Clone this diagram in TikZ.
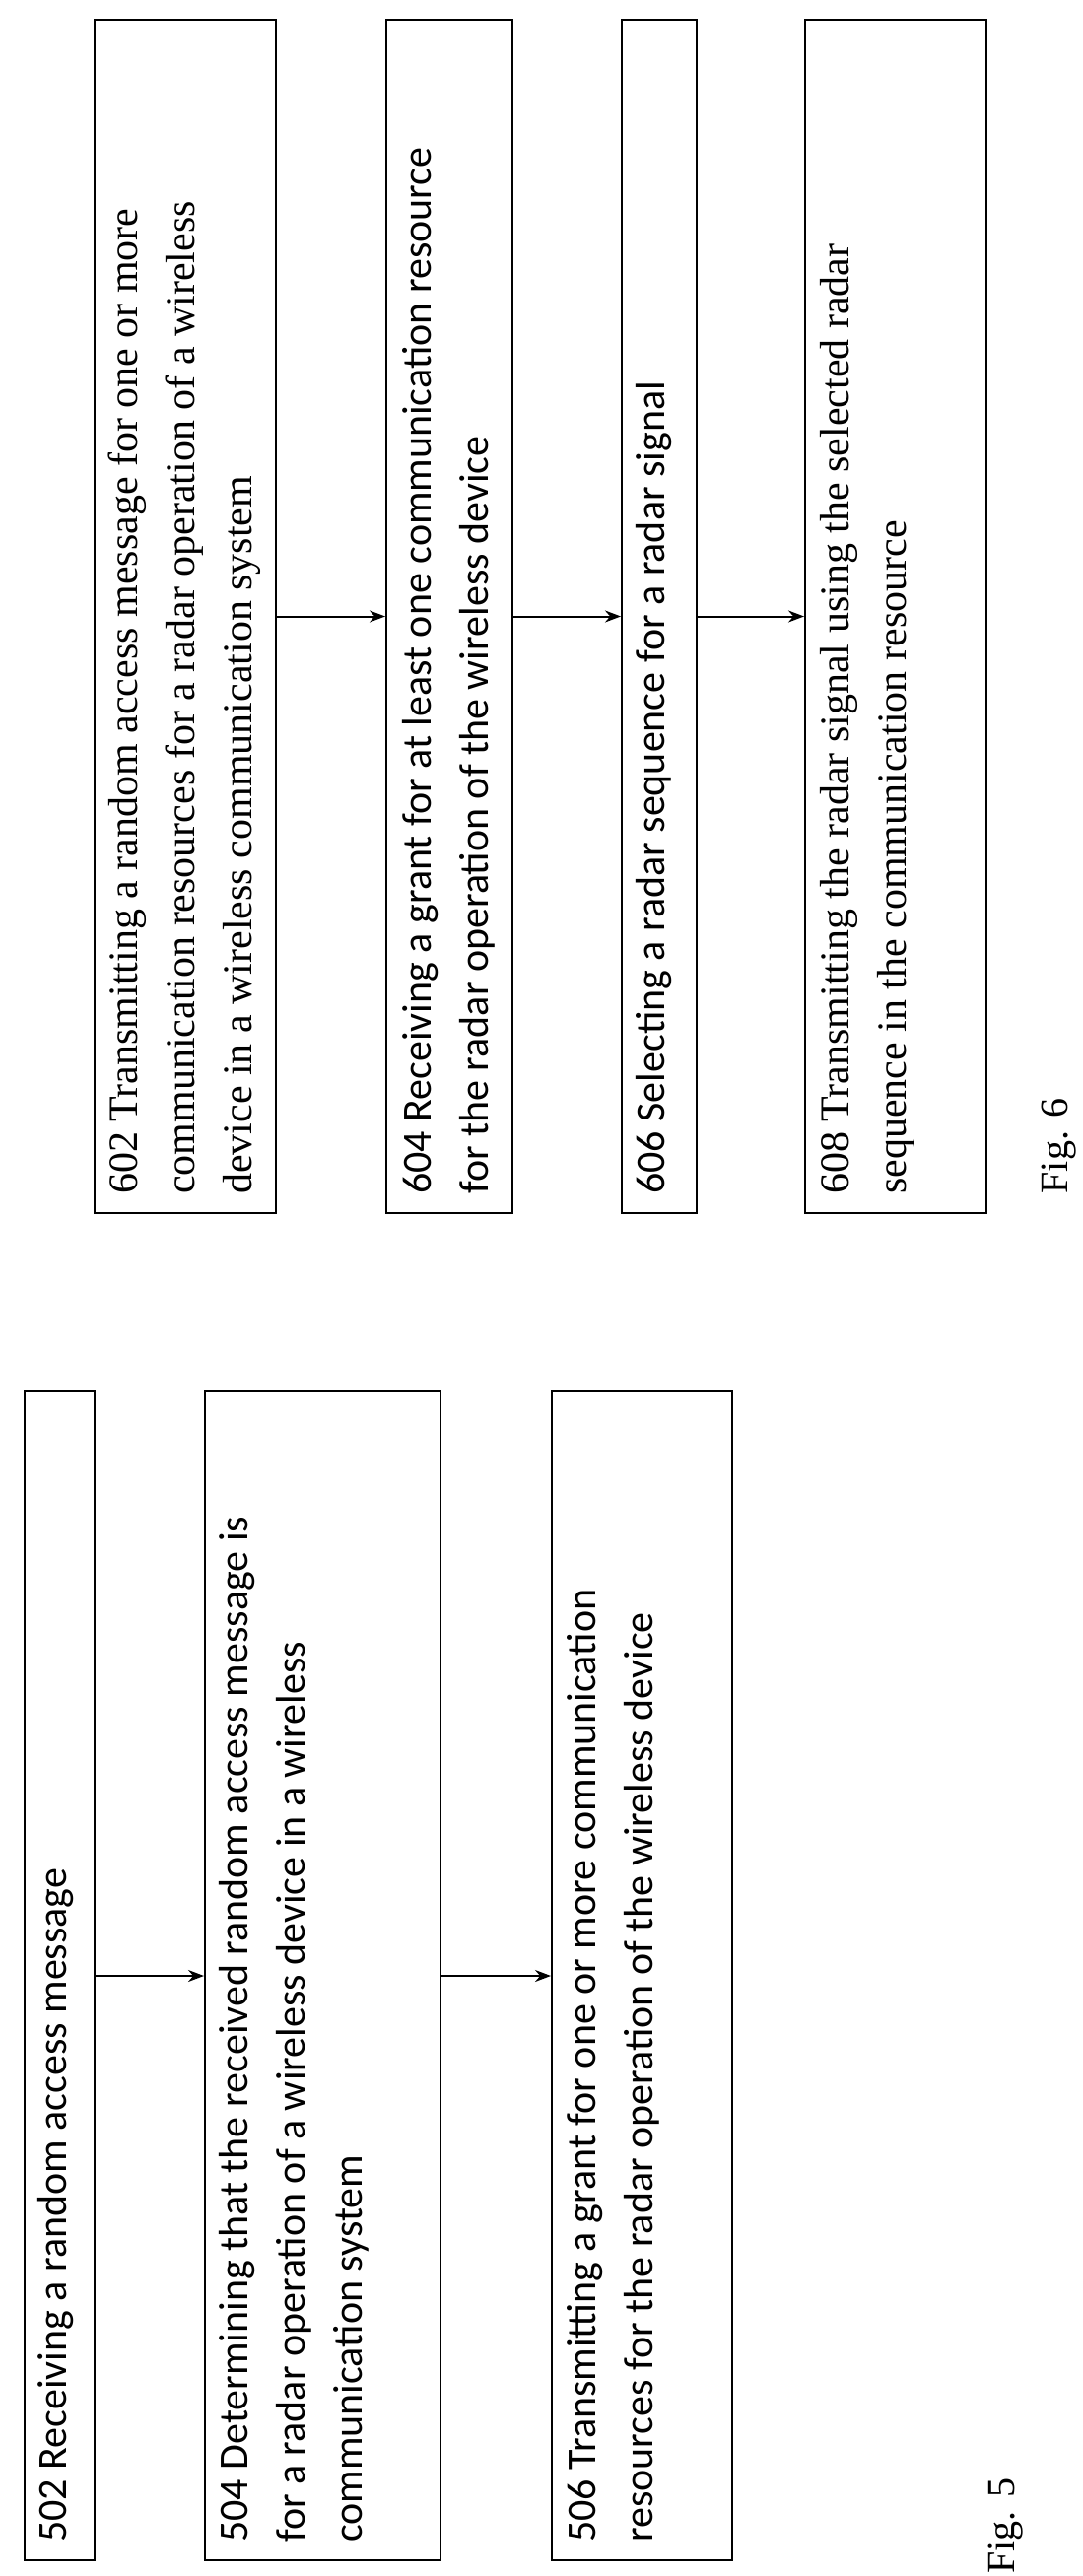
\documentclass[tikz,border=0pt]{standalone}
\usepackage{fontspec}
\setmainfont{Liberation Serif}
\newfontfamily\carlitofont{Carlito}
\usetikzlibrary{arrows.meta}
\begin{document}
\begin{tikzpicture}[x=1pt,y=-1pt,
  box/.style={draw,line width=2pt,inner sep=0pt},
  txt/.style={rotate=90,anchor=north west,align=left,inner sep=0pt},
  st/.style={font=\fontsize{42}{58}\selectfont\carlitofont},
  ts/.style={font=\fontsize{42}{58}\selectfont},
  arr/.style={line width=2pt,-{Stealth[length=16pt,width=12pt]}}]
\useasboundingbox (0,0) rectangle (1099,2614);
\newcommand\bx[5]{\node[box,minimum width={#4-#2},minimum height={#5-#3}] (#1) at ({(#2+#4)/2},{(#3+#5)/2}) {};}
% Fig 6
\bx{b602}{96}{20}{280}{1231}
\bx{b604}{392}{20}{520}{1231}
\bx{b606}{631}{20}{707}{1231}
\bx{b608}{817}{20}{1001}{1231}
\node[txt,ts] (t602) at (110,1212) {602 Transmitting a random access message for one or more\\communication resources for a radar operation of a wireless\\device in a wireless communication system};
\node[txt,st] (t604) at (408,1212) {604 Receiving a grant for at least one communication resource\\for the radar operation of the wireless device};
\node[txt,st] (t606) at (645,1212) {606 Selecting a radar sequence for a radar signal};
\node[txt,ts] (t608) at (832,1212) {608 Transmitting the radar signal using the selected radar\\sequence in the communication resource};
\draw[arr] (b602.east) -- (b604.west);
\draw[arr] (b604.east) -- (b606.west);
\draw[arr] (b606.east) -- (b608.west);
\node[rotate=90,font=\fontsize{40}{48}\selectfont] (f6) at (1075,1163) {Fig. 6};
% Fig 5
\bx{b502}{25}{1412}{96}{2598}
\bx{b504}{208}{1412}{447}{2598}
\bx{b506}{560}{1412}{743}{2598}
\node[txt,st] (t502) at (38,2580) {502 Receiving a random access message};
\node[txt,st] (t504) at (222,2580) {504 Determining that the received random access message is\\for a radar operation of a wireless device in a wireless\\communication system};
\node[txt,st] (t506) at (575,2580) {506 Transmitting a grant for one or more communication\\resources for the radar operation of the wireless device};
\draw[arr] (b502.east) -- (b504.west);
\draw[arr] (b504.east) -- (b506.west);
\node[rotate=90,font=\fontsize{40}{48}\selectfont] (f5) at (1021,2563) {Fig. 5};
\end{tikzpicture}
\end{document}
